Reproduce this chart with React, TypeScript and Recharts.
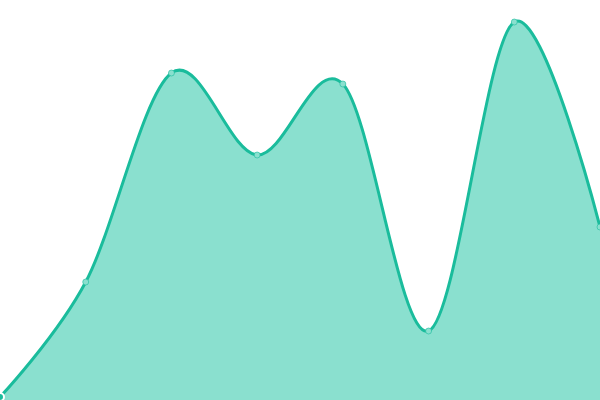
import { AreaChart, Area, XAxis, YAxis } from 'recharts';

const categories = ['A', 'B', 'C', 'D', 'E', 'F', 'G', 'H'];
const values = [0.75, 29.5, 81.75, 61.25, 79, 17.25, 94.5, 43.25];

const data = categories.map((name, i) => ({ name, value: values[i] }));

// cardinal spline (tension 0), same maths as d3's curveCardinal
const cardinalCurve = (context: any) => {
    const k = 1 / 6;
    let x0 = NaN, y0 = NaN, x1 = NaN, y1 = NaN, x2 = NaN, y2 = NaN;
    let pt = 0;
    let line: number = NaN;
    const seg = (x: number, y: number) => {
        context.bezierCurveTo(
            x1 + k * (x2 - x0),
            y1 + k * (y2 - y0),
            x2 + k * (x1 - x),
            y2 + k * (y1 - y),
            x2,
            y2
        );
    };
    return {
        areaStart() { line = 0; },
        areaEnd() { line = NaN; },
        lineStart() {
            x0 = x1 = x2 = y0 = y1 = y2 = NaN;
            pt = 0;
        },
        lineEnd() {
            if (pt === 2) context.lineTo(x2, y2);
            else if (pt === 3) seg(x1, y1);
            if (line || (line !== 0 && pt === 1)) context.closePath();
            line = 1 - line;
        },
        point(x: number, y: number) {
            x = +x; y = +y;
            if (pt === 0) {
                pt = 1;
                if (line) context.lineTo(x, y);
                else context.moveTo(x, y);
            } else if (pt === 1) {
                pt = 2;
                x1 = x; y1 = y;
            } else {
                pt = 3;
                seg(x, y);
            }
            x0 = x1; x1 = x2; x2 = x;
            y0 = y1; y1 = y2; y2 = y;
        },
    };
};

export default function App() {
    return (
        <div style={{ position: 'fixed', top: 0, left: 0, width: 600, height: 400, background: '#fff' }}>
            <AreaChart width={600} height={400} data={data} margin={{ top: 0, right: 0, bottom: 0, left: 0 }}>
                <XAxis dataKey="name" hide />
                <YAxis hide domain={[0, 100]} />
                <Area
                    type={cardinalCurve as any}
                    dataKey="value"
                    stroke="#1abc9c"
                    strokeWidth={3}
                    fill="#8ae0cf"
                    fillOpacity={1}
                    dot={{ r: 3, fill: '#8ae0cf', stroke: '#1abc9c', strokeOpacity: 0.6, strokeWidth: 1 }}
                    isAnimationActive={false}
                />
            </AreaChart>
        </div>
    );
}
